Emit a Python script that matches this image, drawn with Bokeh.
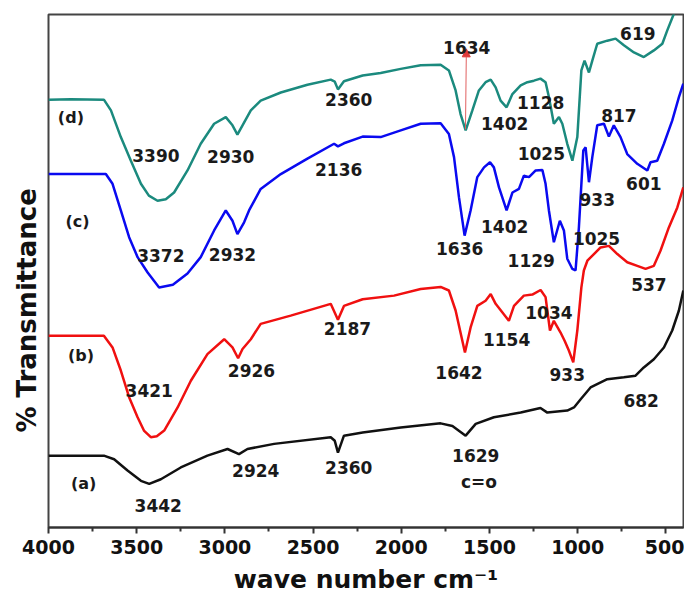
from bokeh.plotting import figure
from bokeh.models import Range1d, FixedTicker, Label, Arrow, NormalHead, Title
from bokeh.embed import file_html
from bokeh.resources import INLINE

# FTIR spectra: wavenumber (cm-1) vs. transmittance (arbitrary offset units)
wn_a = [4000, 3686, 3628, 3552, 3476, 3429, 3363, 3250, 3099, 2985, 2920, 2872,
        2721, 2400, 2377, 2359, 2325, 2219, 2003, 1777, 1710, 1635, 1578, 1475,
        1323, 1211, 1172, 1059, 1021, 983, 927, 832, 738, 672, 625, 568, 511,
        464, 426, 401]
t_a = [14.0, 14.0, 13.3, 11.1, 9.1, 8.5, 9.4, 11.7, 14.0, 15.3, 14.3, 15.3,
       16.3, 17.6, 16.9, 14.6, 17.9, 18.5, 19.5, 20.3, 19.8, 17.9, 20.2, 21.5,
       22.4, 23.3, 22.4, 22.8, 23.4, 25.0, 27.3, 28.9, 29.3, 29.6, 31.2, 32.8, 35.1,
       38.4, 42.3, 46.2]

wn_b = [4000, 3686, 3637, 3590, 3543, 3495, 3459, 3420, 3386, 3344, 3268, 3193,
        3099, 3004, 2957, 2925, 2900, 2853, 2797, 2627, 2400, 2359, 2325, 2219,
        2041, 1890, 1777, 1730, 1692, 1639, 1607, 1569, 1522, 1493, 1465, 1390,
        1361, 1305, 1257, 1210, 1182, 1157, 1135, 1097, 1074, 1050, 1025, 1002,
        979, 965, 945, 870, 823, 775, 719, 662, 615, 568, 530, 483, 435, 401]
t_b = [37.4, 37.4, 35.1, 30.6, 25.4, 21.5, 18.9, 17.6, 17.8, 18.9, 23.4, 28.6,
       33.8, 36.7, 35.1, 33.0, 34.8, 36.7, 39.7, 41.3, 43.6, 40.5, 43.2, 44.5,
       45.2, 46.5, 46.9, 46.2, 42.3, 34.1, 39.0, 43.2, 44.2, 45.5, 43.6, 40.3,
       43.2, 45.2, 45.4, 46.3, 44.9, 38.4, 40.3, 38.0, 36.4, 34.5, 32.2, 38.4,
       46.8, 50.1, 52.0, 54.6, 54.9, 53.3, 51.7, 51.0, 50.4, 51.0, 54.0, 58.5, 62.4, 66.3]

wn_c = [4000, 3675, 3637, 3590, 3543, 3495, 3438, 3373, 3295, 3212, 3137, 3061,
        2995, 2957, 2929, 2891, 2863, 2797, 2683, 2532, 2381, 2359, 2325, 2219,
        2117, 2003, 1890, 1777, 1730, 1701, 1673, 1641, 1607, 1569, 1531, 1497,
        1475, 1446, 1403, 1370, 1333, 1305, 1276, 1238, 1200, 1182, 1163, 1135,
        1101, 1078, 1059, 1030, 1012, 993, 968, 955, 936, 917, 889, 851, 823,
        795, 757, 719, 662, 605, 587, 549, 511, 464, 426, 401]
t_c = [68.9, 68.9, 67.0, 61.8, 56.6, 52.7, 49.7, 46.8, 47.3, 49.5, 52.7, 57.9,
       61.8, 59.8, 57.2, 59.5, 61.8, 66.0, 68.9, 71.9, 74.8, 74.3, 74.9, 76.2,
       76.1, 77.4, 78.7, 78.8, 76.7, 72.2, 64.4, 56.9, 61.8, 68.3, 70.2, 71.2,
       70.2, 66.3, 61.8, 65.3, 66.0, 68.6, 68.3, 69.6, 69.7, 67.0, 61.8, 55.6,
       59.8, 57.9, 52.4, 50.4, 50.1, 58.5, 73.5, 74.1, 67.3, 72.2, 78.4, 78.7, 76.2,
       78.4, 76.1, 72.8, 70.9, 69.6, 71.2, 71.5, 74.8, 79.3, 83.9, 86.5]

wn_d = [4000, 3873, 3686, 3646, 3590, 3533, 3476, 3431, 3382, 3335, 3288, 3212,
        3137, 3061, 2995, 2957, 2929, 2900, 2853, 2797, 2683, 2532, 2400, 2377,
        2359, 2325, 2219, 2117, 2003, 1890, 1777, 1730, 1692, 1664, 1635, 1597,
        1560, 1522, 1493, 1465, 1437, 1403, 1370, 1323, 1285, 1248, 1211, 1182,
        1163, 1135, 1106, 1087, 1059, 1030, 1002, 979, 961, 936, 917, 889, 832,
        785, 738, 681, 625, 568, 520, 492, 455, 417]
t_d = [83.4, 83.5, 83.4, 81.3, 76.1, 71.5, 67.0, 64.7, 63.7, 64.0, 65.3, 69.6,
       74.8, 78.7, 80.0, 78.4, 76.6, 78.4, 81.3, 83.2, 84.8, 86.3, 87.3, 86.9,
       85.4, 87.0, 88.1, 88.6, 89.4, 90.1, 90.2, 89.1, 85.2, 80.6, 77.4, 81.3,
       85.2, 86.8, 87.3, 85.8, 83.2, 81.9, 84.5, 86.2, 86.8, 87.1, 87.5, 86.8,
       83.9, 78.7, 80.0, 78.7, 74.8, 71.5, 76.1, 89.1, 91.0, 88.7, 91.0, 94.3, 94.9,
       95.3, 94.0, 92.6, 91.7, 93.0, 94.3, 96.9, 100.1, 103.7]

# peak annotations: text, wavenumber, transmittance
peak_text = ["(d)", "3390", "2930", "2360", "1634", "1402", "1128", "619", "817",
             "1025", "601",
             "(c)", "3372", "2932", "2136", "933", "1636", "1402", "1129", "1025", "537",
             "(b)", "3421", "2926", "2187", "1642", "1154", "1034", "933",
             "(a)", "3442", "2924", "2360", "1629", "c=o", "682"]
peak_x = [3873, 3391, 2967, 2298, 1629, 1414, 1210, 659, 766,
          1206, 625,
          3835, 3363, 2957, 2355, 889, 1669, 1414, 1263, 893, 596,
          3816, 3429, 2849, 2305, 1673, 1403, 1163, 1059,
          3801, 3378, 2825, 2298, 1578, 1560, 640]
peak_y = [79.9, 72.5, 72.3, 83.4, 93.6, 78.7, 82.9, 96.2, 80.3,
          72.9, 67.0,
          59.7, 53.0, 53.3, 69.8, 63.9, 54.3, 58.7, 52.0, 56.3, 47.3,
          33.5, 26.8, 30.6, 38.8, 30.2, 36.7, 41.9, 29.9,
          8.5, 4.2, 11.2, 11.6, 14.0, 8.8, 24.7]

major_ticks = [4000, 3500, 3000, 2500, 2000, 1500, 1000, 500]
minor_ticks = [3750, 3250, 2750, 2250, 1750, 1250, 750]

FONT = "DejaVu Sans"

p = figure(width=684, height=601, x_range=Range1d(4000, 400), y_range=Range1d(0, 100),
           output_backend="svg", toolbar_location=None,
           min_border_left=48, min_border_right=1, min_border_top=14, min_border_bottom=74)
p.background_fill_color = "white"
p.border_fill_color = "white"
p.outline_line_color = "#444444"
p.outline_line_width = 2
p.grid.visible = False
p.yaxis.visible = False

xa = p.xaxis[0]
xa.ticker = FixedTicker(ticks=major_ticks, minor_ticks=minor_ticks)
xa.axis_line_width = 2
xa.axis_line_color = "#333333"
xa.major_tick_line_width = 2
xa.minor_tick_line_width = 2
xa.major_tick_line_color = "#333333"
xa.minor_tick_line_color = "#333333"
xa.major_tick_in = 0
xa.major_tick_out = 6
xa.minor_tick_in = 0
xa.minor_tick_out = 4
xa.major_label_text_font = FONT
xa.major_label_text_font_style = "bold"
xa.major_label_text_font_size = "19px"
xa.major_label_text_color = "#111111"
xa.major_label_standoff = 6
xa.axis_label = "wave number cm\u207b\u00b9"
xa.axis_label_text_font = FONT
xa.axis_label_text_font_style = "bold"
xa.axis_label_text_font_size = "25px"
xa.axis_label_text_color = "#111111"
xa.axis_label_standoff = 8

# vertical title on the left, starting a little above the frame bottom
p.add_layout(Title(text="% Transmittance", align="left", offset=95, standoff=14,
                   text_font=FONT, text_font_style="bold", text_font_size="26px",
                   text_color="#111111"), "left")

lw = 2.5
p.line(wn_a, t_a, line_color="#111111", line_width=lw)
p.line(wn_b, t_b, line_color="#f01010", line_width=lw)
p.line(wn_c, t_c, line_color="#0a0af0", line_width=lw)
p.line(wn_d, t_d, line_color="#1b8a7e", line_width=lw)

# marker arrow for the 1634 band
p.add_layout(Arrow(end=NormalHead(size=8, fill_color="#e03a3a", line_color="#e03a3a"),
                   x_start=1636, y_start=77.6, x_end=1631, y_end=93.3,
                   line_color="#e06060", line_width=1))

for txt, x, y in zip(peak_text, peak_x, peak_y):
    size = "16px" if txt.startswith("(") else "17px"
    p.add_layout(Label(x=x, y=y, text=txt, text_font=FONT, text_font_style="bold",
                       text_font_size=size, text_color="#1a1a1a",
                       text_align="center", text_baseline="middle"))

open("out.html", "w").write(file_html(p, INLINE))
